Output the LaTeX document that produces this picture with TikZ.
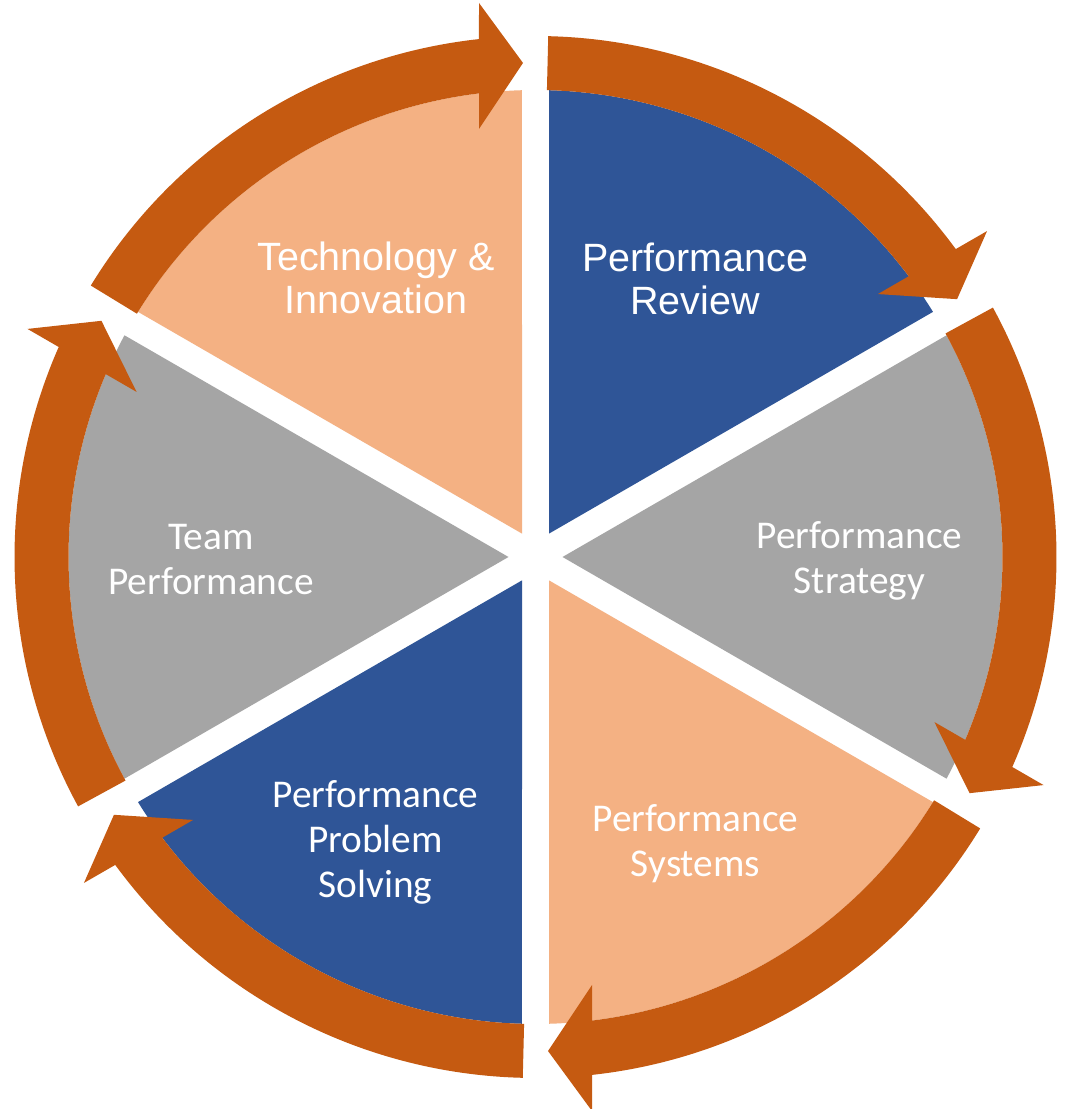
\documentclass[tikz,border=0pt]{standalone}
\usepackage{fontspec}
\setmainfont{Carlito}
\newfontfamily\arialfont{Liberation Sans}
\definecolor{ringc}{HTML}{C55A11}
\definecolor{peachc}{HTML}{F4B183}
\definecolor{bluec}{HTML}{2F5597}
\definecolor{grayc}{HTML}{A5A5A5}
\tikzset{
  lblA/.style={text=white, align=center, inner sep=0pt, anchor=center,
    font=\arialfont\fontsize{29.6pt}{32.25pt}\selectfont},
  lblC/.style={text=white, align=center, inner sep=0pt, anchor=center,
    font=\fontsize{29.5pt}{33.75pt}\selectfont},
  ringarrow/.style={fill=ringc}
}
\begin{document}
\begin{tikzpicture}[x=0.75pt,y=0.75pt]
\path[use as bounding box, fill=white] (0,0) rectangle (1064,1109);
\coordinate (C) at (535.5,552);
\begin{scope}[shift={(C)}]
  % pie wedges
  \foreach \a/\col in {90/bluec,30/grayc,-30/peachc,-90/bluec,-150/grayc,150/peachc}{
    \fill[\col] ({\a-30}:27) -- ({\a-1.66}:467)
      arc[start angle={\a-1.66}, end angle={\a-58.34}, radius=467] -- cycle;
  }
  % ring arrows
  \foreach \e in {90,30,-30,-90,-150,150}{
    \begin{scope}[rotate={\e-90}]
      \fill[ringarrow] (148.6:467) -- (148.6:521)
        arc[start angle=148.6, end angle=96.23, radius=521]
        -- (-56.5,554) -- (-12.5,494) -- (-56.5,428) -- (96.95:467)
        arc[start angle=96.95, end angle=148.6, radius=467] -- cycle;
    \end{scope}
  }
\end{scope}
\node[lblA] (tech) at (376,831.5) {Technology \&\\Innovation};
\node[lblA] (review) at (695,830.5) {Performance\\Review};
\node[lblC] (team) at (211,549) {Team\\Performance};
\node[lblC] (strategy) at (859.5,548.5) {Performance\\Strategy};
\node[lblC] (systems) at (695.5,265.5) {Performance\\Systems};
\node[lblC] (problem) at (375.5,267) {Performance\\Problem\\Solving};
\end{tikzpicture}
\end{document}
